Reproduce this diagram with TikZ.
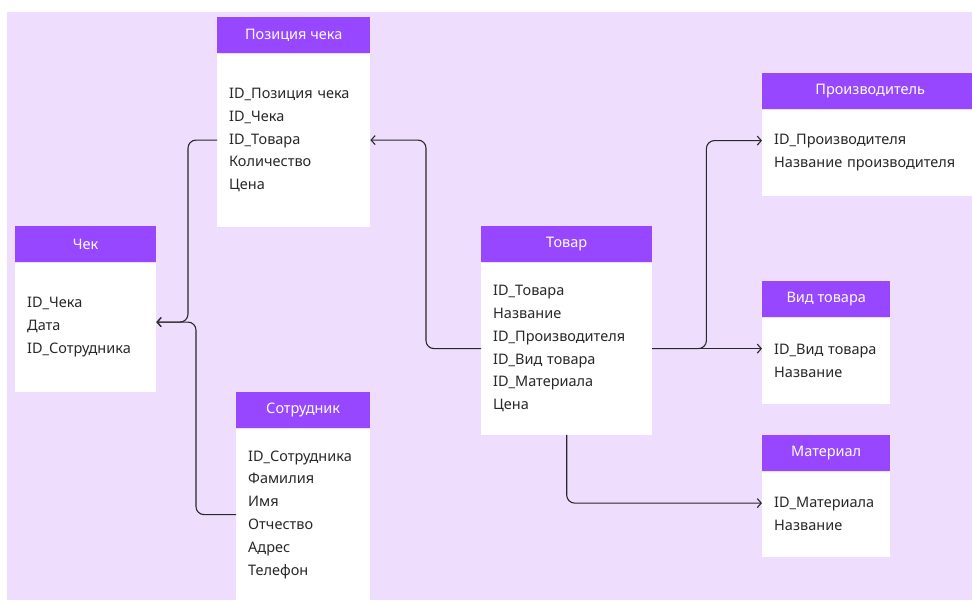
\documentclass[tikz,border=0pt]{standalone}
\usepackage{fontspec}
\setmainfont{Noto Sans}
\usetikzlibrary{positioning,arrows.meta}
\definecolor{lavender}{RGB}{238,221,253}
\definecolor{headpurple}{RGB}{151,71,255}
\definecolor{inkgray}{RGB}{40,40,40}

\begin{document}
\begin{tikzpicture}[x=1pt,y=-1pt,
  tablehead/.style={anchor=north west,fill=headpurple,text=white,minimum height=36pt,inner sep=0pt,font=\fontsize{14.5}{17}\selectfont},
  tablebody/.style={fill=white,inner xsep=12pt,inner ysep=0pt,align=left,text=inkgray,font=\fontsize{14.5}{22.8}\selectfont},
  link/.style={draw=inkgray,line width=1.1pt,rounded corners=8pt,-{Straight Barb[length=4pt,width=9pt]}}]
\clip (0,0) rectangle (972,600);
\fill[lavender] (7,12) rectangle (972,600);

% Позиция чека
\node[tablehead,minimum width=153pt] (posh) at (217,17) {Позиция чека};
\node[tablebody,below=0pt of posh,minimum width=153pt,text width=129pt,minimum height=173pt] (posb)
  {ID\_Позиция чека\\ID\_Чека\\ID\_Товара\\Количество\\Цена};

% Чек
\node[tablehead,minimum width=141pt] (chekh) at (15,226) {Чек};
\node[tablebody,below=0pt of chekh,minimum width=141pt,text width=117pt,minimum height=129pt] (chekb)
  {ID\_Чека\\Дата\\ID\_Сотрудника};

% Сотрудник
\node[tablehead,minimum width=134pt] (sotrh) at (236,392) {Сотрудник};
\node[tablebody,below=0pt of sotrh,minimum width=134pt,text width=110pt,minimum height=172pt] (sotrb)
  {ID\_Сотрудника\\Фамилия\\Имя\\Отчество\\Адрес\\Телефон};

% Товар
\node[tablehead,minimum width=171pt] (tovh) at (481,226) {Товар};
\node[tablebody,below=0pt of tovh,minimum width=171pt,text width=147pt,minimum height=172pt] (tovb)
  {ID\_Товара\\Название\\ID\_Производителя\\ID\_Вид товара\\ID\_Материала\\Цена};

% Производитель
\node[tablehead,minimum width=216pt] (prh) at (762,73) {Производитель};
\node[tablebody,below=0pt of prh,minimum width=216pt,text width=192pt,minimum height=86pt] (prb)
  {ID\_Производителя\\Название производителя};

% Вид товара
\node[tablehead,minimum width=128pt] (vidh) at (762,281) {Вид товара};
\node[tablebody,below=0pt of vidh,minimum width=128pt,text width=104pt,minimum height=86pt] (vidb)
  {ID\_Вид товара\\Название};

% Материал
\node[tablehead,minimum width=128pt] (math) at (762,435) {Материал};
\node[tablebody,below=0pt of math,minimum width=128pt,text width=104pt,minimum height=85pt] (matb)
  {ID\_Материала\\Название};

% связи
\draw[link] (posb.west) -- ++(-29,0) |- ([yshift=5pt]chekb.east);
\draw[link] (sotrb.west) -- ++(-40,0) |- ([yshift=5pt]chekb.east);
\draw[link] (tovb.west) -- ++(-55,0) |- (posb.east);
\draw[link] (tovb.east) -- ++(54,0) |- ([yshift=12pt]prb.west);
\draw[link] (tovb.east) -- (tovb.east -| vidb.west);
\draw[link] (tovb.south) |- ([yshift=11pt]matb.west);
\end{tikzpicture}
\end{document}
